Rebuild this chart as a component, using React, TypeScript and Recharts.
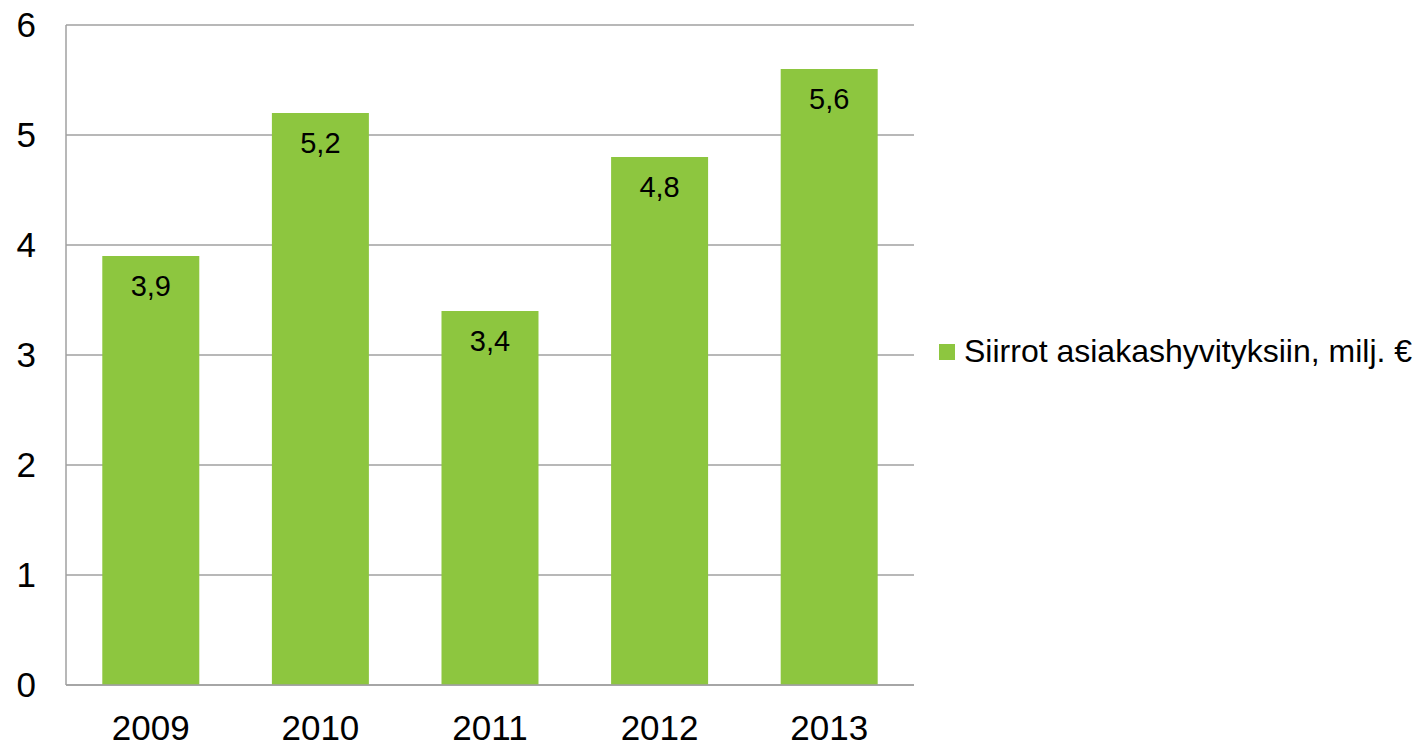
import React from 'react';
import { BarChart, Bar, XAxis, YAxis, CartesianGrid, LabelList, Legend } from 'recharts';

const years = ['2009', '2010', '2011', '2012', '2013'];
const values = [3.9, 5.2, 3.4, 4.8, 5.6];
const yTicks = [0, 1, 2, 3, 4, 5, 6];
const seriesName = 'Siirrot asiakashyvityksiin, milj. €';

const data = years.map((y, i) => ({ year: y, value: values[i] }));

const FONT = '"Liberation Sans", Arial, sans-serif';
const GREEN = '#8DC63F';
const GRID = '#A0A0A0';

const fmt = (v: number) => v.toFixed(1).replace('.', ',');

const LegendContent = () => (
  <div style={{ position: 'relative', width: 480, height: 40, fontFamily: FONT }}>
    <div style={{ position: 'absolute', left: 0, top: 9, width: 16, height: 16, background: GREEN }} />
    <div style={{ position: 'absolute', left: 25, top: 0, fontSize: 32, lineHeight: '32px', color: '#000', whiteSpace: 'nowrap' }}>
      {seriesName}
    </div>
  </div>
);

export default function App() {
  return (
    <div style={{ position: 'absolute', left: 0, top: 0, width: 1419, height: 748, background: '#fff' }}>
      <BarChart
        width={1419}
        height={748}
        data={data}
        margin={{ top: 25, right: 505, left: 0, bottom: 0 }}
        barCategoryGap="21.4%"
      >
        <CartesianGrid vertical={false} stroke={GRID} strokeWidth={1.5} />
        <XAxis
          dataKey="year"
          height={63}
          tickLine={false}
          tickSize={0}
          tickMargin={30}
          axisLine={{ stroke: GRID, strokeWidth: 1.5 }}
          tick={{ fill: '#000', fontSize: 35, fontFamily: FONT }}
        />
        <YAxis
          width={66}
          domain={[0, 6]}
          ticks={yTicks}
          interval={0}
          tickLine={false}
          tickSize={0}
          tickMargin={30}
          axisLine={{ stroke: GRID, strokeWidth: 1.5 }}
          tick={{ fill: '#000', fontSize: 35, fontFamily: FONT }}
        />
        <Legend
          layout="vertical"
          align="center"
          verticalAlign="middle"
          content={<LegendContent />}
          wrapperStyle={{ left: 939, top: 335, width: 480, height: 40 }}
        />
        <Bar dataKey="value" name={seriesName} fill={GREEN} isAnimationActive={false}>
          <LabelList
            dataKey="value"
            position="insideTop"
            offset={19}
            formatter={(v: any) => fmt(Number(v))}
            style={{ fill: '#000', fontSize: 29, fontFamily: FONT }}
          />
        </Bar>
      </BarChart>
    </div>
  );
}
